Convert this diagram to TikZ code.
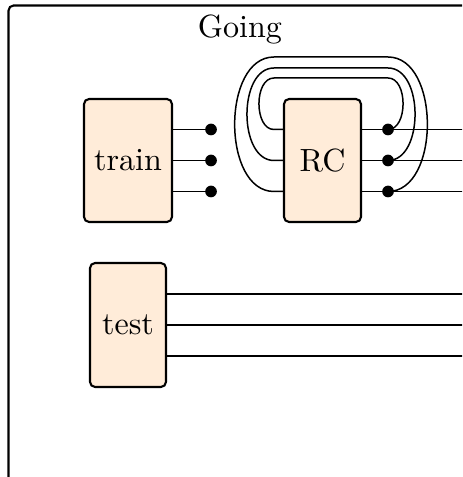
\documentclass[tikz,border=0pt]{standalone}
\begin{document}
\begin{tikzpicture}[x=0.33333pt,y=-0.33333pt,
  every node/.style={font=\fontsize{10.7}{13}\selectfont},
  box/.style={draw, line width=0.7pt, fill=orange!15, rounded corners=1.7pt, inner sep=0pt, minimum height=41pt},
  dotn/.style={circle, fill, inner sep=0pt, minimum size=3.9pt},
  wire/.style={line width=0.5pt}]
\useasboundingbox (0,0) rectangle (462,477);
\clip (0,0) rectangle (462,477);
\draw[line width=0.7pt, rounded corners=1.7pt] (8.5,5.5) rectangle (520,520);
\node[anchor=base] (title) at (240,38) {Going};
\node[box, minimum width=29.33pt] (train) at (128,160.5) {train};
\node[box, minimum width=25.67pt] (rc) at (322.5,160.5) {RC};
\node[box, minimum width=25.33pt, minimum height=41.33pt] (test) at (128,325) {test};
% train outputs
\node[dotn] (t1) at (211,129.5) {};
\node[dotn] (t2) at (211,160.5) {};
\node[dotn] (t3) at (211,191.5) {};
\draw[wire] (train.east |- t1) -- (t1);
\draw[wire] (train.east |- t2) -- (t2);
\draw[wire] (train.east |- t3) -- (t3);
% RC outputs
\node[dotn] (r1) at (388,129.5) {};
\node[dotn] (r2) at (388,160.5) {};
\node[dotn] (r3) at (388,191.5) {};
\coordinate (e1) at (475,129.5);
\coordinate (e2) at (475,160.5);
\coordinate (e3) at (475,191.5);
\draw[wire] (rc.east |- r1) -- (e1);
\draw[wire] (rc.east |- r2) -- (e2);
\draw[wire] (rc.east |- r3) -- (e3);
% feedback loops
\coordinate (a1) at (388,78);   \coordinate (b1) at (274,78);   \coordinate (c1) at (274,129.5);
\coordinate (a2) at (388,68);   \coordinate (b2) at (274,68);   \coordinate (c2) at (274,160.5);
\coordinate (a3) at (388,57);   \coordinate (b3) at (274,57);   \coordinate (c3) at (274,191.5);
\draw[wire] (r1.center) to[out=0,in=0] (a1) -- (b1) to[out=180,in=180] (c1) -- (rc.west |- c1);
\draw[wire] (r2.center) to[out=0,in=0] (a2) -- (b2) to[out=180,in=180] (c2) -- (rc.west |- c2);
\draw[wire] (r3.center) to[out=0,in=0] (a3) -- (b3) to[out=180,in=180] (c3) -- (rc.west |- c3);
% test outputs
\coordinate (s1) at (475,294);
\coordinate (s2) at (475,325);
\coordinate (s3) at (475,356);
\draw[wire] (test.east |- s1) -- (s1);
\draw[wire] (test.east |- s2) -- (s2);
\draw[wire] (test.east |- s3) -- (s3);
\end{tikzpicture}
\end{document}
